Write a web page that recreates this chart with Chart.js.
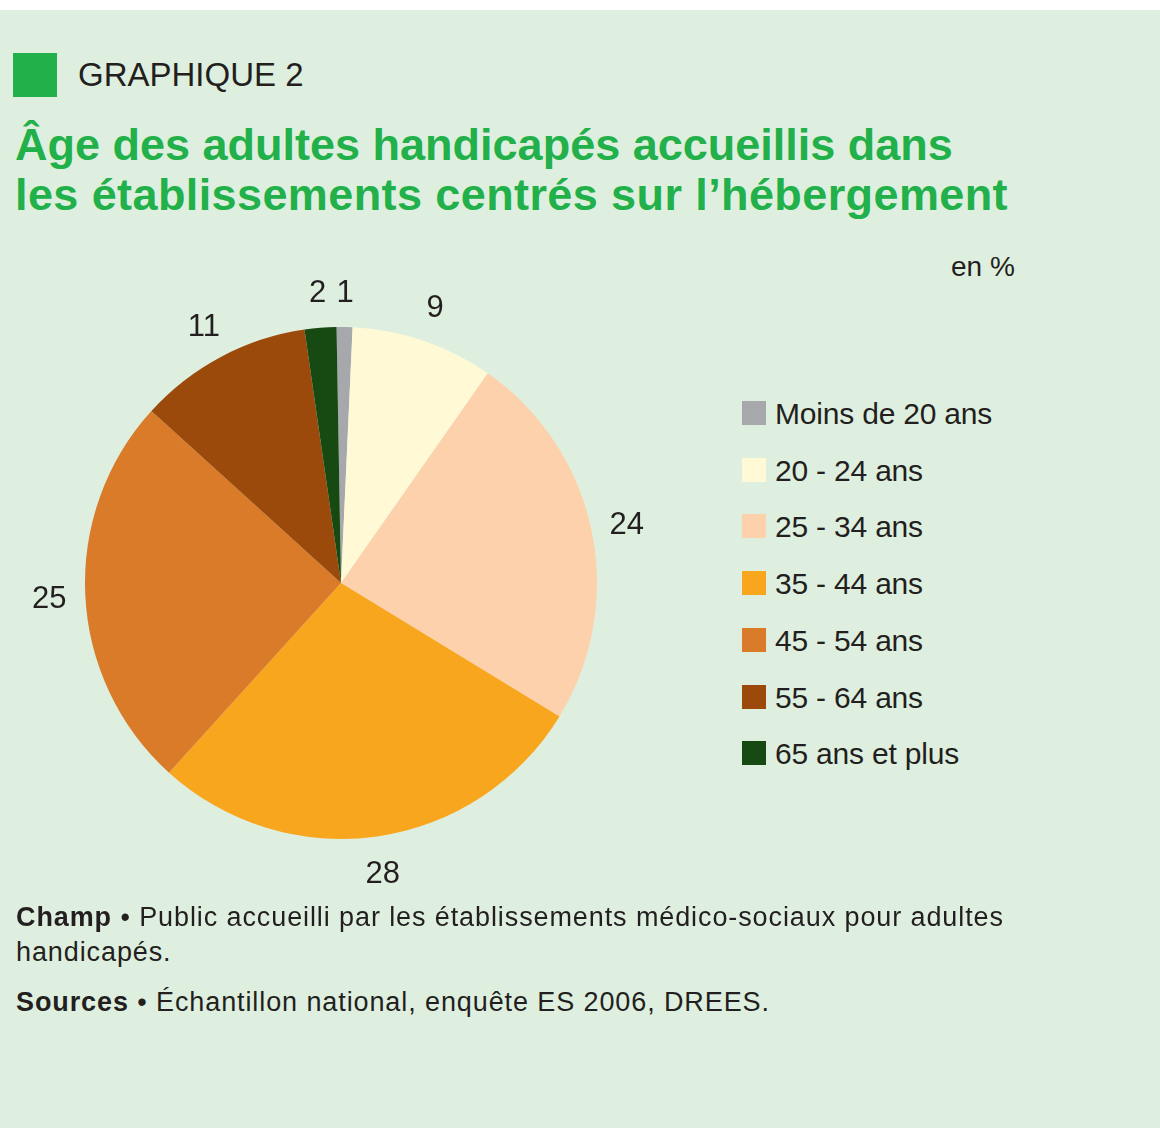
<!DOCTYPE html>
<html lang="fr">
<head>
<meta charset="utf-8">
<script src="https://cdn.jsdelivr.net/npm/chart.js@4/dist/chart.umd.min.js"></script>
<style>
  html, body { margin:0; padding:0; background:#ffffff; }
  body { width:1160px; height:1128px; position:relative; overflow:hidden; font-family:"Liberation Sans", Arial, sans-serif; color:#231f20; }
  #bg { position:absolute; left:0; top:10px; width:1160px; height:1118px; background:#dfefdf; }
  .abs { position:absolute; white-space:nowrap; line-height:1; }
  #sq { left:13px; top:53px; width:44px; height:44px; background:#22b04a; }
  #graph { left:78px; top:58px; font-size:33px; }
  .title { left:15px; font-size:45px; font-weight:bold; color:#22b04a; }
  #unit { left:951px; top:253px; font-size:28px; }
  #chartWrap { position:absolute; left:0; top:263px; width:682px; height:640px; }
  .leg { position:absolute; left:742px; height:24px; }
  .leg .box { position:absolute; left:0; top:0; width:24px; height:24px; }
  .leg .txt { position:absolute; left:33px; top:-2px; font-size:30px; line-height:1; white-space:nowrap; letter-spacing:-0.2px; }
  .foot { left:16px; font-size:27px; letter-spacing:0.9px; }
</style>
</head>
<body>
<div id="bg"></div>
<div id="sq" class="abs"></div>
<div id="graph" class="abs">GRAPHIQUE 2</div>
<div class="abs title" style="top:122px;">Âge des adultes handicapés accueillis dans</div>
<div class="abs title" style="top:172px; letter-spacing:0.4px;">les établissements centrés sur l’hébergement</div>
<div id="unit" class="abs">en %</div>
<div id="chartWrap"><canvas id="c"></canvas></div>
<div id="legend"></div>
<div class="abs foot" style="top:904px;"><b>Champ</b> • Public accueilli par les établissements médico-sociaux pour adultes</div>
<div class="abs foot" style="top:939px;">handicapés.</div>
<div class="abs foot" style="top:989px;"><b>Sources</b> • Échantillon national, enquête ES 2006, DREES.</div>
<script>
const categories = ["Moins de 20 ans", "20 - 24 ans", "25 - 34 ans", "35 - 44 ans", "45 - 54 ans", "55 - 64 ans", "65 ans et plus"];
const values = [1, 9, 24, 28, 25, 11, 2];
const valueLabels = ["1", "9", "24", "28", "25", "11", "2"];
const colors = ["#a6a8ab", "#fff9d6", "#fcd1ab", "#f9a61f", "#d97b29", "#9c4a0c", "#164a12"];

// HTML legend built from the arrays
const legend = document.getElementById('legend');
categories.forEach((cat, i) => {
  const row = document.createElement('div');
  row.className = 'leg';
  row.style.top = (401 + i * 56.7) + 'px';
  const b = document.createElement('div');
  b.className = 'box';
  b.style.background = colors[i];
  const t = document.createElement('div');
  t.className = 'txt';
  t.textContent = cat;
  row.appendChild(b); row.appendChild(t);
  legend.appendChild(row);
});

const outsideLabels = {
  id: 'outsideLabels',
  afterDatasetsDraw(chart) {
    const ctx = chart.ctx;
    const meta = chart.getDatasetMeta(0);
    ctx.save();
    ctx.fillStyle = '#231f20';
    ctx.font = '31px "Liberation Sans", Arial, sans-serif';
    ctx.textAlign = 'center';
    ctx.textBaseline = 'middle';
    meta.data.forEach((arc, i) => {
      const p = arc.getProps(['x', 'y', 'startAngle', 'endAngle', 'outerRadius'], true);
      const mid = (p.startAngle + p.endAngle) / 2;
      const r = p.outerRadius + 36;
      ctx.fillText(valueLabels[i], p.x + Math.cos(mid) * r, p.y + 2 + Math.sin(mid) * r);
    });
    ctx.restore();
  }
};

new Chart(document.getElementById('c'), {
  type: 'pie',
  data: {
    labels: categories,
    datasets: [{
      data: values,
      backgroundColor: colors,
      borderWidth: 0,
      radius: 256
    }]
  },
  options: {
    responsive: true,
    maintainAspectRatio: false,
    animation: false,
    rotation: -1,
    layout: { padding: 0 },
    plugins: {
      legend: { display: false },
      tooltip: { enabled: false }
    }
  },
  plugins: [outsideLabels]
});
</script>
</body>
</html>
